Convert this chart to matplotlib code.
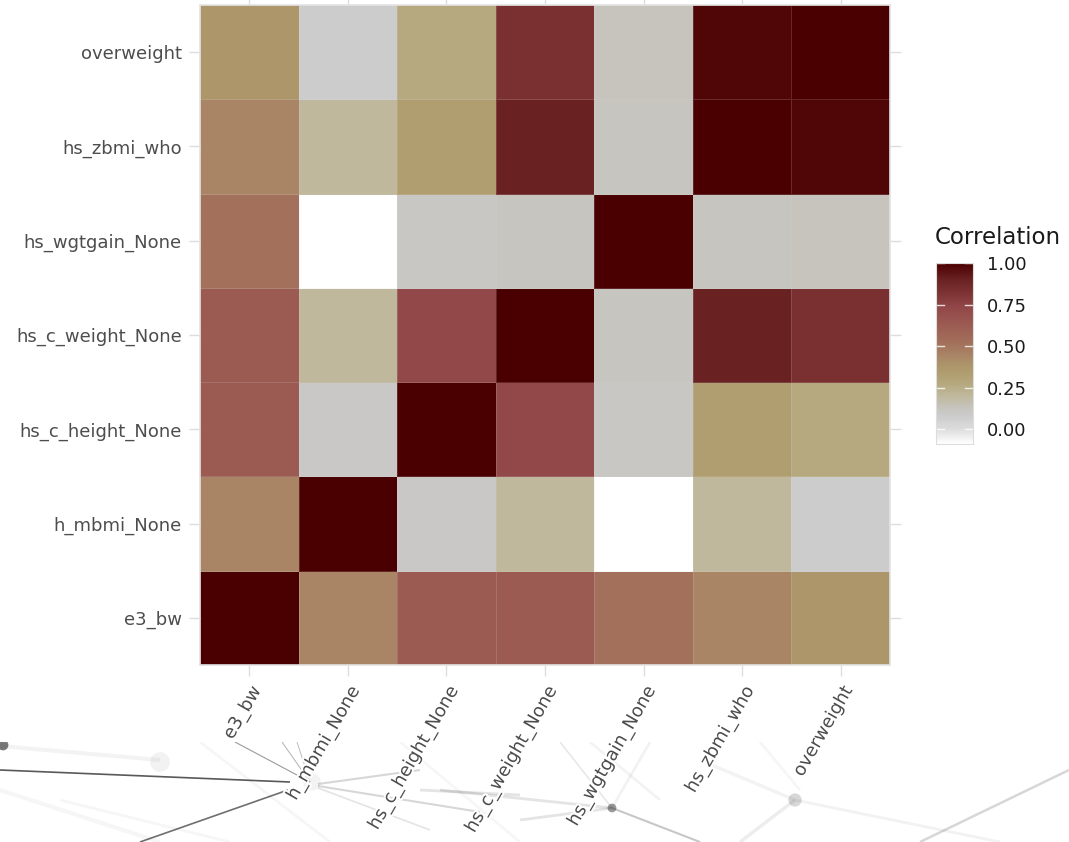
import numpy as np
import matplotlib
matplotlib.use("Agg")
import matplotlib.pyplot as plt
import matplotlib.patheffects as pe
from matplotlib.colors import LinearSegmentedColormap

# variables, in plot order (x left->right, y bottom->top)
variables = ["e3_bw", "h_mbmi_None", "hs_c_height_None", "hs_c_weight_None",
             "hs_wgtgain_None", "hs_zbmi_who", "overweight"]

# correlation rows, same order as variables
e3_bw        = [1.00, 0.44, 0.63, 0.63, 0.52, 0.44, 0.38]
h_mbmi       = [0.44, 1.00, 0.10, 0.20, -0.09, 0.20, 0.08]
hs_c_height  = [0.63, 0.10, 1.00, 0.73, 0.11, 0.33, 0.27]
hs_c_weight  = [0.63, 0.20, 0.73, 1.00, 0.12, 0.90, 0.83]
hs_wgtgain   = [0.52, -0.09, 0.11, 0.12, 1.00, 0.12, 0.13]
hs_zbmi      = [0.44, 0.20, 0.33, 0.90, 0.12, 1.00, 0.98]
overweight   = [0.38, 0.08, 0.27, 0.83, 0.13, 0.98, 1.00]

cbar_ticks = [0.00, 0.25, 0.50, 0.75, 1.00]

corr = np.array([e3_bw, h_mbmi, hs_c_height, hs_c_weight, hs_wgtgain, hs_zbmi, overweight])
vmin, vmax = corr.min(), corr.max()

# colour ramp white -> grey -> khaki -> brown -> red -> maroon
nodes = [(-0.09, "#ffffff"), (0.00, "#dcdcdc"), (0.08, "#cbcbcb"), (0.13, "#c6c4bc"),
         (0.20, "#bfb89c"), (0.27, "#b6a97f"), (0.33, "#b09e70"), (0.38, "#ad966a"),
         (0.44, "#a98566"), (0.52, "#a3705b"), (0.63, "#9c5b52"), (0.73, "#924848"),
         (0.83, "#7b3131"), (0.90, "#6b2222"), (1.00, "#4a0000")]
cmap = LinearSegmentedColormap.from_list(
    "corr", [((v - vmin) / (vmax - vmin), c) for v, c in nodes])

W, H = 1069, 842
fig = plt.figure(figsize=(W / 100, H / 100), dpi=100)

# faint network drawing in the background strip at the bottom
bg = fig.add_axes([0, 0, 1, 100 / H], zorder=-5)
bg.set_xlim(0, W)
bg.set_ylim(842, 742)
bg.axis("off")
segs = [((0, 770), (290, 782), 1.2, 0.75),
        ((288, 790), (140, 842), 1.2, 0.65),
        ((310, 782), (235, 742), 0.8, 0.45),
        ((310, 782), (282, 742), 0.7, 0.35),
        ((310, 782), (297, 742), 0.7, 0.3),
        ((318, 784), (420, 770), 1.5, 0.18),
        ((318, 786), (480, 812), 1.5, 0.18),
        ((318, 788), (430, 830), 1.2, 0.12),
        ((420, 790), (520, 795), 2.0, 0.12),
        ((0, 746), (160, 760), 3.0, 0.05),
        ((0, 790), (160, 842), 3.0, 0.04),
        ((60, 800), (230, 842), 2.0, 0.04),
        ((440, 790), (612, 808), 2.0, 0.12),
        ((520, 820), (612, 808), 2.0, 0.12),
        ((612, 808), (700, 842), 1.5, 0.25),
        ((560, 742), (612, 808), 1.0, 0.12),
        ((612, 808), (650, 742), 2.0, 0.06),
        ((590, 742), (660, 800), 2.0, 0.05),
        ((795, 800), (740, 842), 2.5, 0.08),
        ((795, 800), (1000, 842), 2.0, 0.06),
        ((795, 800), (700, 760), 2.5, 0.05),
        ((760, 742), (800, 790), 2.0, 0.04),
        ((1069, 770), (920, 842), 1.8, 0.18),
        ((400, 742), (520, 842), 2.0, 0.04),
        ((200, 742), (330, 842), 2.0, 0.04)]
for (x0, y0), (x1, y1), lw, a in segs:
    bg.plot([x0, x1], [y0, y1], color="#222222", lw=lw, alpha=a, solid_capstyle="butt")
for x, y, s, a in [(3, 745, 60, 0.6), (160, 762, 200, 0.06), (312, 782, 160, 0.05),
                   (612, 808, 40, 0.45), (795, 800, 90, 0.18)]:
    bg.scatter([x], [y], s=s, color="#222222", alpha=a, edgecolors="none")

# heatmap panel
ax = fig.add_axes([200 / W, 1 - 665 / H, 690 / W, 660 / H])
n = len(variables)
mesh = ax.pcolormesh(np.arange(n + 1), np.arange(n + 1), corr, cmap=cmap,
                     vmin=vmin, vmax=vmax, edgecolors=(0.85, 0.85, 0.85, 0.18), linewidth=0.6)
ax.set_xlim(0, n)
ax.set_ylim(0, n)
ax.set_xticks(np.arange(n) + 0.5)
ax.set_yticks(np.arange(n) + 0.5)
ax.set_xticklabels(variables, rotation=60, ha="right", va="top", rotation_mode="anchor")
ax.set_yticklabels(variables)
ax.tick_params(axis="both", length=8, width=1, color="#dddddd", labelsize=13,
               labelcolor="#4d4d4d", pad=5, top=True, right=True)
for lab in ax.get_xticklabels():
    lab.set_path_effects([pe.withStroke(linewidth=3, foreground="white")])
for sp in ax.spines.values():
    sp.set_color("#e3e3e3")
    sp.set_linewidth(1.2)

# colour bar legend
cax = fig.add_axes([936 / W, 1 - 444 / H, 37 / W, 181 / H])
cb = fig.colorbar(mesh, cax=cax, ticks=cbar_ticks)
cb.outline.set_edgecolor("#dddddd")
cb.ax.set_yticklabels([f"{t:.2f}" for t in cbar_ticks])
cb.ax.tick_params(length=0, labelsize=13, labelcolor="#1a1a1a", pad=10)
for t in cbar_ticks:
    cax.axhline(t, xmin=0, xmax=0.22, color="white", lw=1, alpha=0.8)
    cax.axhline(t, xmin=0.78, xmax=1, color="white", lw=1, alpha=0.8)
fig.text(935 / W, 1 - 238 / H, "Correlation", fontsize=16.5, color="#1a1a1a",
         ha="left", va="center")

fig.savefig("out.png", dpi=100, facecolor="white")
